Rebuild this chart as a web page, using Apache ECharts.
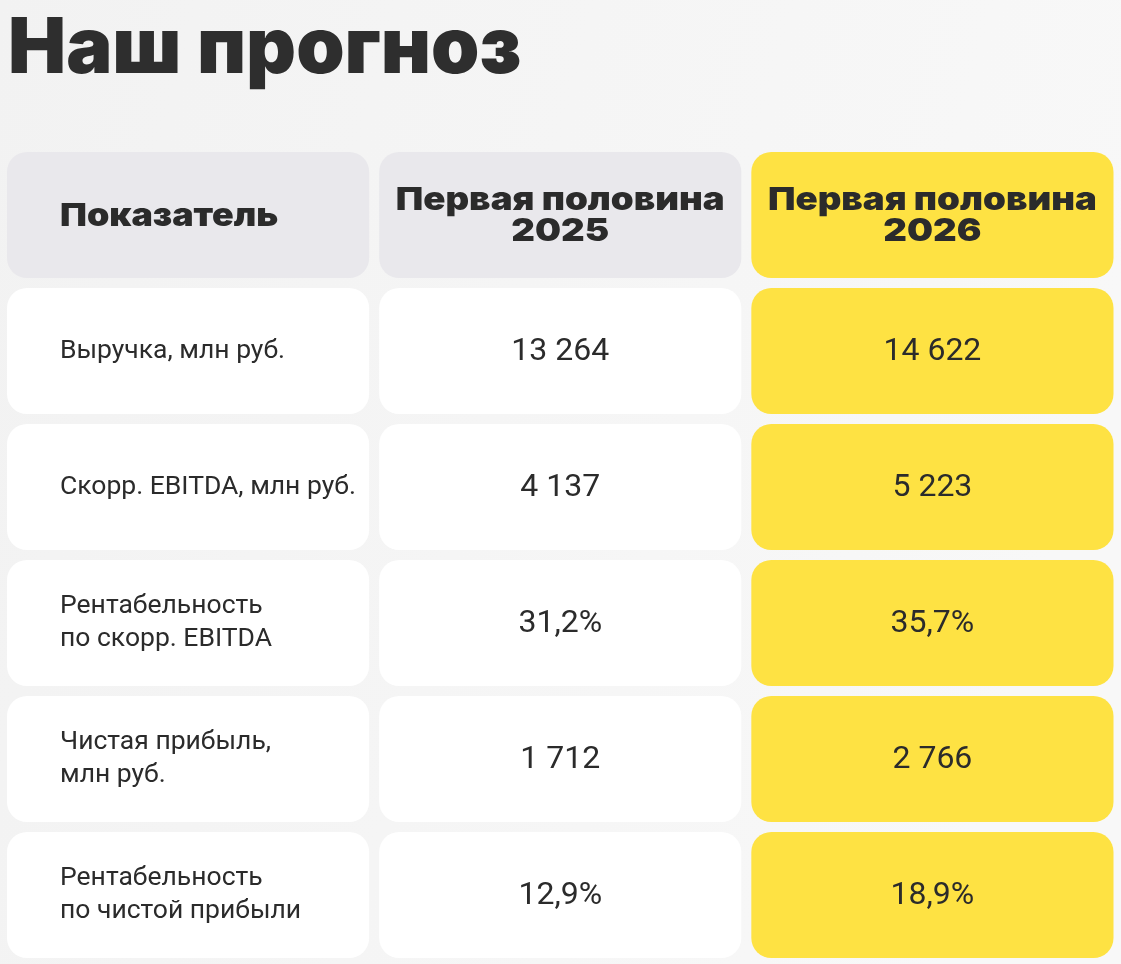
<!DOCTYPE html>
<html>
<head>
<meta charset="utf-8">
<script src="https://cdn.jsdelivr.net/npm/echarts@6/dist/echarts.min.js"></script>
<style>
html,body{margin:0;padding:0;width:100%;height:100%;background:#f3f3f3;}
#chart{width:1121px;height:964px;}
</style>
</head>
<body>
<div id="chart"></div>
<script>
// ---- data ----
const titleText = 'Наш прогноз';
const columnHeaders = ['Показатель', 'Первая половина\n2025', 'Первая половина\n2026'];
const indicators = [
  'Выручка, млн руб.',
  'Скорр. EBITDA, млн руб.',
  'Рентабельность\nпо скорр. EBITDA',
  'Чистая прибыль,\nмлн руб.',
  'Рентабельность\nпо чистой прибыли'
];
const valueKinds = ['num', 'num', 'pct', 'num', 'pct'];
const h1_2025 = [13264, 4137, 31.2, 1712, 12.9];
const h1_2026 = [14622, 5223, 35.7, 2766, 18.9];

function fmt(v, kind) {
  if (kind === 'pct') return v.toFixed(1).replace('.', ',') + '%';
  return String(Math.round(v)).replace(/\B(?=(\d{3})+(?!\d))/g, ' ');
}

// build cells: [col, row, text, role]
const cells = [];
columnHeaders.forEach((t, c) => cells.push([c, 0, t, c === 2 ? 'headHi' : 'head']));
indicators.forEach((t, r) => {
  cells.push([0, r + 1, t, 'label']);
  cells.push([1, r + 1, fmt(h1_2025[r], valueKinds[r]), 'value']);
  cells.push([2, r + 1, fmt(h1_2026[r], valueKinds[r]), 'valueHi']);
});

const TEXT = '#2b2b2b';
const chart = echarts.init(document.getElementById('chart'), null, {renderer: 'canvas'});
chart.setOption({
  backgroundColor: {
    type: 'linear', x: 0, y: 0, x2: 1, y2: 0.3,
    colorStops: [{offset: 0, color: '#f2f2f2'}, {offset: 1, color: '#f8f8f8'}]
  },
  animation: false,
  title: {
    text: titleText,
    left: 3, top: 0,
    textStyle: {fontFamily: 'Inter', fontWeight: 900, fontSize: 77.5, color: '#2e2e2e', lineHeight: 90}
  },
  grid: {left: 2, right: 2.5, top: 147, bottom: 1},
  xAxis: {type: 'category', data: ['0', '1', '2'], show: false},
  yAxis: {type: 'category', data: ['h', '1', '2', '3', '4', '5'], inverse: true, show: false},
  series: [{
    type: 'custom',
    data: cells,
    encode: {x: 0, y: 1},
    renderItem: function (params, api) {
      const col = api.value(0), row = api.value(1);
      const item = cells[params.dataIndex];
      const text = item[2], role = item[3];
      const c = api.coord([col, row]);
      const s = api.size([1, 1]);
      const w = s[0] * 362 / 372, h = s[1] * 126 / 136;
      const x0 = c[0] - w / 2, y0 = c[1] - h / 2;
      let fill = '#ffffff';
      if (role === 'head') fill = '#e9e8ec';
      if (role === 'headHi' || role === 'valueHi') fill = '#fee243';
      let textEl;
      if (role === 'head' || role === 'headHi') {
        textEl = {type: 'text', x: col === 0 ? x0 + 53 : c[0], y: c[1] + 1,
          scaleX: col === 0 ? 1.12 : 1.145,
          style: {text: text, x: 0, y: 0,
            align: col === 0 ? 'left' : 'center', verticalAlign: 'middle',
            fontFamily: 'Inter', fontWeight: 900, fontSize: 32, lineHeight: 31, fill: TEXT}};
      } else if (role === 'label') {
        textEl = {type: 'text', style: {text: text, x: x0 + 53, y: c[1],
          align: 'left', verticalAlign: 'middle',
          fontFamily: 'Roboto', fontWeight: 400, fontSize: 26.5, lineHeight: 33, fill: TEXT}};
      } else {
        textEl = {type: 'text', style: {text: text, x: c[0], y: c[1] + 1,
          align: 'center', verticalAlign: 'middle',
          fontFamily: 'Roboto', fontWeight: 400, fontSize: 32, fill: TEXT}};
      }
      return {
        type: 'group',
        children: [
          {type: 'rect', shape: {x: x0, y: y0, width: w, height: h, r: 20}, style: {fill: fill}},
          textEl
        ]
      };
    }
  }]
});
</script>
</body>
</html>
